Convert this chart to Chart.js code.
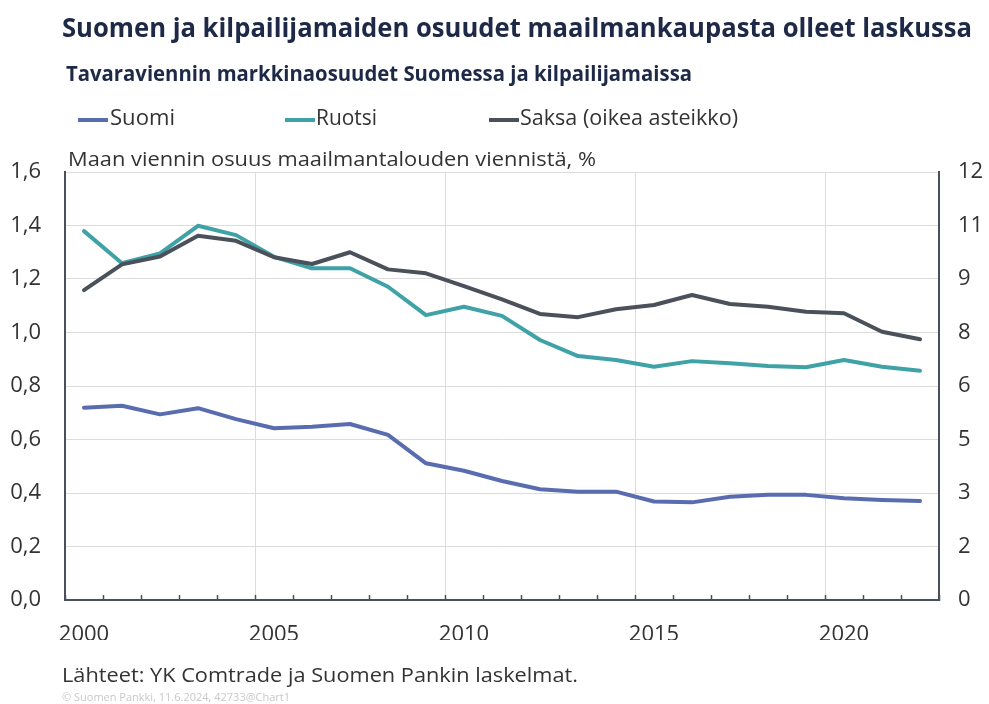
<!DOCTYPE html>
<html>
<head>
<meta charset="utf-8">
<script src="https://cdn.jsdelivr.net/npm/chart.js@4"></script>
<style>
  body { margin: 0; background: #fff; font-family: "Open Sans", sans-serif; }
  #wrap { position: relative; width: 989px; height: 704px; overflow: hidden; }
  #myChart { position: absolute; left: 0; top: 0; }
  .txt { position: absolute; white-space: nowrap; display: inline-block; transform-origin: left center; line-height: 1; }
  .title { left: 62px; top: 13px; font-size: 27px; font-weight: 700; color: #1d2947; }
  .sub { left: 66px; top: 63px; font-size: 21px; font-weight: 700; color: #1d2947; }
  .leg { top: 107px; font-size: 21px; color: #333; }
  .legline { position: absolute; top: 118px; width: 30px; height: 4px; }
  .ytitle { left: 68px; top: 149px; font-size: 20px; color: #333; }
  .foot { left: 62px; top: 665px; font-size: 20px; color: #333; }
  .copy { left: 62px; top: 692px; font-size: 10px; color: #c8c8c8; }
</style>
</head>
<body>
<div id="wrap">
  <canvas id="myChart" width="989" height="704"></canvas>
  <div class="txt title" data-w="910">Suomen ja kilpailijamaiden osuudet maailmankaupasta olleet laskussa</div>
  <div class="txt sub" data-w="626">Tavaraviennin markkinaosuudet Suomessa ja kilpailijamaissa</div>
  <div class="legline" style="left:78px;background:#5a6cb0"></div>
  <div class="txt leg" style="left:110px" data-w="65">Suomi</div>
  <div class="legline" style="left:285px;background:#3ea2a7"></div>
  <div class="txt leg" style="left:316px" data-w="61">Ruotsi</div>
  <div class="legline" style="left:489px;background:#4b515b"></div>
  <div class="txt leg" style="left:520px" data-w="218">Saksa (oikea asteikko)</div>
  <div class="txt ytitle" data-w="528">Maan viennin osuus maailmantalouden viennistä, %</div>
  <div class="txt foot" data-w="516">Lähteet: YK Comtrade ja Suomen Pankin laskelmat.</div>
  <div class="txt copy" data-w="228">© Suomen Pankki, 11.6.2024, 42733@Chart1</div>
</div>
<script>
// Vuodet
const years = ['2000', '2001', '2002', '2003', '2004', '2005', '2006', '2007', '2008', '2009', '2010',
  '2011', '2012', '2013', '2014', '2015', '2016', '2017', '2018', '2019', '2020', '2021', '2022'];

// Osuus maailman viennistä, % (vasen asteikko)
const suomi = [0.719, 0.726, 0.694, 0.717, 0.676, 0.642, 0.648, 0.658, 0.617, 0.511, 0.483,
  0.445, 0.414, 0.405, 0.405, 0.368, 0.365, 0.386, 0.393, 0.393, 0.380, 0.374, 0.370];
const ruotsi = [1.379, 1.259, 1.296, 1.399, 1.364, 1.283, 1.240, 1.240, 1.171, 1.065, 1.096,
  1.062, 0.972, 0.912, 0.897, 0.872, 0.893, 0.885, 0.875, 0.870, 0.897, 0.872, 0.857];

// Saksa (oikea asteikko)
const saksa = [8.69, 9.41, 9.63, 10.21, 10.07, 9.61, 9.42, 9.75, 9.27, 9.16, 8.80,
  8.43, 8.02, 7.93, 8.15, 8.27, 8.55, 8.30, 8.22, 8.08, 8.04, 7.52, 7.31];

// Akselien tekstit
const leftTicks = ['0,0', '0,2', '0,4', '0,6', '0,8', '1,0', '1,2', '1,4', '1,6'];
const rightTicks = ['0', '2', '3', '5', '6', '8', '9', '11', '12'];

// tekstien leveys kuten mallissa
document.querySelectorAll('.txt').forEach(el => {
  const w = el.getBoundingClientRect().width;
  el.style.transform = 'scaleX(' + (Number(el.dataset.w) / w) + ')';
});

const axisColor = '#4a4f5c';
const gridColor = '#dcdcdc';
const tickFont = { family: 'Open Sans', size: 22 };

const ctx = document.getElementById('myChart').getContext('2d');
const myChart = new Chart(ctx, {
  type: 'line',
  data: {
    labels: years,
    datasets: [
      { label: 'Suomi', data: suomi, yAxisID: 'y', borderColor: '#5a6cb0', order: 2 },
      { label: 'Ruotsi', data: ruotsi, yAxisID: 'y', borderColor: '#3ea2a7', order: 1 },
      { label: 'Saksa (oikea asteikko)', data: saksa, yAxisID: 'y2', borderColor: '#4b515b', order: 0 }
    ]
  },
  options: {
    responsive: false,
    animation: false,
    events: [],
    elements: {
      line: { borderWidth: 4, tension: 0, borderCapStyle: 'round', borderJoinStyle: 'round' },
      point: { radius: 0 }
    },
    layout: { padding: { top: 172, bottom: 64, left: 0, right: 0 } },
    plugins: { legend: { display: false }, tooltip: { enabled: false } },
    scales: {
      x: {
        type: 'category',
        offset: true,
        afterFit: s => { s.height = 40; },
        grid: {
          offset: true,
          color: c => (c.index % 5 === 0 && c.index > 0 && c.index < years.length) ? gridColor : 'rgba(0,0,0,0)',
          tickColor: axisColor,
          tickLength: -5,
          tickWidth: 1.5
        },
        border: { color: axisColor, width: 2 },
        ticks: {
          autoSkip: false,
          maxRotation: 0,
          padding: 27,
          color: '#333',
          font: tickFont,
          callback: (v, i) => (i % 5 === 0 ? years[i] : '')
        }
      },
      y: {
        position: 'left',
        min: 0,
        max: 1.6,
        afterFit: s => { s.width = 65; },
        afterBuildTicks: s => { s.ticks = leftTicks.map((t, i) => ({ value: i * 0.2 })); },
        grid: { color: gridColor, drawTicks: false },
        border: { color: axisColor, width: 2 },
        ticks: {
          padding: 24,
          color: '#333',
          font: tickFont,
          callback: (v, i) => leftTicks[i]
        }
      },
      y2: {
        position: 'right',
        min: 0,
        max: 12,
        afterFit: s => { s.width = 50; },
        afterBuildTicks: s => { s.ticks = rightTicks.map((t, i) => ({ value: i * 1.5 })); },
        grid: { drawOnChartArea: false, drawTicks: false },
        border: { color: axisColor, width: 2 },
        ticks: {
          padding: 19,
          color: '#333',
          font: tickFont,
          callback: (v, i) => rightTicks[i]
        }
      }
    }
  }
});
</script>
</body>
</html>
